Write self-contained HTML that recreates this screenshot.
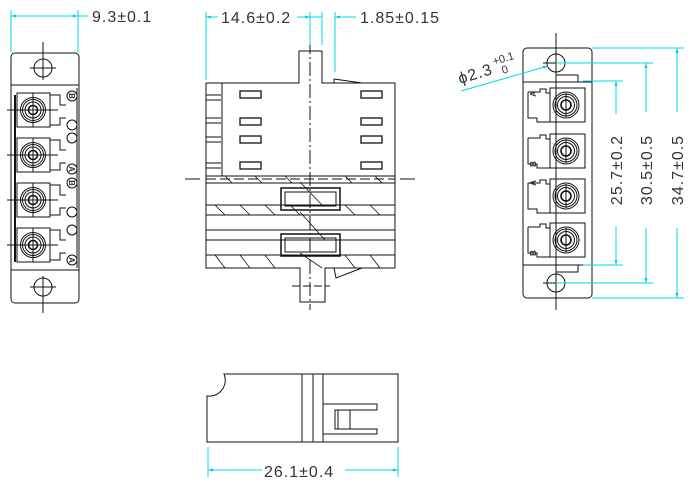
<!DOCTYPE html>
<html><head><meta charset="utf-8"><style>
html,body{margin:0;padding:0;background:#fff;}
svg{display:block}
text{font-family:"Liberation Sans",sans-serif;fill:#333;}
</style></head><body>
<svg width="699" height="490" viewBox="0 0 699 490" xmlns="http://www.w3.org/2000/svg">
<defs>
<marker id="ar" viewBox="0 0 10 10" refX="10" refY="5" markerWidth="8" markerHeight="5" orient="auto-start-reverse"><path d="M0,2 L10,5 L0,8z" fill="#00c8e0"/></marker>
</defs>
<g fill="none" stroke="#111" stroke-width="1">
<!-- LEFT VIEW -->
<rect x="11" y="53" width="68" height="250" rx="4"/>
<line x1="11" y1="85" x2="79" y2="85"/><line x1="11" y1="270" x2="79" y2="270"/>
<circle cx="43" cy="68" r="9"/><circle cx="43" cy="287" r="9"/>
<line x1="43" y1="42" x2="43" y2="80"/><line x1="30" y1="68" x2="56" y2="68"/>
<line x1="43" y1="276" x2="43" y2="313"/><line x1="30" y1="287" x2="56" y2="287"/>
<line x1="15" y1="95" x2="15" y2="262" stroke-width="2"/>
<g id="lp">
<rect x="17" y="93" width="33" height="34"/>
<circle cx="33" cy="110" r="12.5"/><circle cx="33" cy="110" r="10.5"/><circle cx="33" cy="110" r="8"/><circle cx="33" cy="110" r="4.5" stroke-width="1.6"/>
<line x1="7" y1="110" x2="58" y2="110"/><line x1="33" y1="93" x2="33" y2="127"/>
<path d="M50,95 H60 V105 H66 M50,125 H60 V118 H66"/>
</g>
<use href="#lp" y="45"/><use href="#lp" y="90"/><use href="#lp" y="135"/>
<line x1="77" y1="88" x2="77" y2="268"/>
<circle cx="72" cy="96" r="5"/><circle cx="72" cy="125" r="5"/><circle cx="72" cy="138" r="5"/><circle cx="72" cy="169" r="5"/>
<circle cx="72" cy="183" r="5"/><circle cx="72" cy="212" r="5"/><circle cx="72" cy="230" r="5"/><circle cx="72" cy="260" r="5"/>

<!-- MIDDLE VIEW -->
<path d="M206,83 H299 V51 H322 V83 H395 V268 H325 V302 H300 V268 H206 Z"/>
<path d="M334,79 L362,83 M334,79 L334,83"/>
<path d="M334,268 L336,278 L362,268"/>
<line x1="222" y1="83" x2="222" y2="176"/>
<line x1="206" y1="176" x2="395" y2="176"/><line x1="206" y1="183" x2="395" y2="183"/>
<line x1="206" y1="205" x2="395" y2="205"/><line x1="206" y1="215" x2="395" y2="215"/>
<line x1="206" y1="230" x2="395" y2="230"/><line x1="206" y1="240" x2="395" y2="240"/>
<line x1="206" y1="255" x2="395" y2="255"/>
<g stroke-width="1.3">
<rect x="240" y="91" width="21" height="7"/><rect x="240" y="118" width="21" height="7"/><rect x="240" y="136" width="21" height="7"/><rect x="240" y="162" width="21" height="7"/>
<rect x="361" y="91" width="21" height="7"/><rect x="361" y="118" width="21" height="7"/><rect x="361" y="136" width="21" height="7"/><rect x="361" y="162" width="21" height="7"/>
</g>
<path d="M206,95 H221 M206,100 H221 M206,118 H221 M206,123 H221 M206,137 H221 M206,142 H221 M206,163 H221 M206,168 H221"/>
<rect x="281" y="188" width="59" height="22" stroke-width="1.5"/><rect x="285" y="192" width="51" height="14"/>
<rect x="281" y="234" width="59" height="22" stroke-width="1.5"/><rect x="285" y="238" width="51" height="14"/>
<g stroke-width="0.8">
<path d="M215,205 L225,215 M240,205 L250,215 M265,205 L275,215 M290,205 L300,215 M345,205 L355,215 M370,205 L380,215"/>
<path d="M215,255 L225,268 M240,255 L250,268 M265,255 L275,268 M345,255 L355,268 M370,255 L380,268"/>
<path d="M225,176 L232,183 M255,176 L262,183 M285,176 L292,183 M345,176 L352,183 M375,176 L382,183"/>
<path d="M300,212 L325,240 M300,182 L322,205 M300,253 L322,268"/>
</g>
<path d="M206,179 H395" stroke-dasharray="10,4"/>
<line x1="185" y1="179" x2="200" y2="179"/><line x1="400" y1="179" x2="415" y2="179"/>
<line x1="310" y1="40" x2="310" y2="310" stroke-dasharray="14,3,2,3"/>
<line x1="292" y1="286" x2="330" y2="286" stroke-dasharray="8,3"/>

<!-- RIGHT VIEW -->
<rect x="523" y="48" width="69" height="250" rx="4"/>
<line x1="523" y1="82" x2="592" y2="82"/><line x1="523" y1="265" x2="592" y2="265"/>
<circle cx="556" cy="63" r="9"/><circle cx="556" cy="283" r="9"/>
<line x1="556" y1="33" x2="556" y2="310"/>
<line x1="543" y1="63" x2="569" y2="63"/><line x1="543" y1="283" x2="569" y2="283"/>
<path d="M556,75 H578 V82 M556,272 H578 V265"/>
<g id="rp">
<rect x="550" y="88" width="35" height="34"/>
<circle cx="566" cy="105" r="13"/><circle cx="566" cy="105" r="11"/><circle cx="566" cy="105" r="8.5"/><circle cx="566" cy="105" r="5" stroke-width="1.6"/>
<line x1="566" y1="93" x2="566" y2="117"/>
<path d="M528,92 H540 V89 H546 V93 H550 M528,92 V118 H537 V122 H550"/>
</g>
<use href="#rp" y="46"/><use href="#rp" y="91"/><use href="#rp" y="135"/>

<!-- BOTTOM VIEW -->
<path d="M224,374 H398 V442 H207 V396 A16,16 0 0 0 224,374 Z"/>
<line x1="302" y1="374" x2="302" y2="442"/><line x1="313" y1="374" x2="313" y2="442"/><line x1="323" y1="374" x2="323" y2="442"/>
<path d="M323,404 H377 V410 H338 V429 H377 V434 H323"/>
<rect x="335" y="410" width="15" height="19"/>
</g>

<!-- DIMENSIONS (cyan) -->
<g stroke="#00d8ec" stroke-width="1" fill="none">
<line x1="11" y1="10" x2="11" y2="52"/><line x1="78" y1="10" x2="78" y2="52"/>
<line x1="11" y1="16" x2="78" y2="16" marker-start="url(#ar)" marker-end="url(#ar)"/>
<line x1="78" y1="16" x2="88" y2="16"/>
<line x1="206" y1="12" x2="206" y2="80"/><line x1="310" y1="12" x2="310" y2="45"/><line x1="322" y1="12" x2="322" y2="45"/><line x1="335" y1="12" x2="335" y2="72"/>
<line x1="206" y1="17" x2="218" y2="17" marker-start="url(#ar)"/>
<line x1="297" y1="17" x2="310" y2="17" marker-end="url(#ar)"/>
<line x1="310" y1="17" x2="322" y2="17"/>
<line x1="335" y1="17" x2="356" y2="17" marker-start="url(#ar)"/>
<line x1="461" y1="91" x2="548" y2="66" marker-end="url(#ar)"/>
<line x1="592" y1="48" x2="684" y2="48"/><line x1="592" y1="298" x2="684" y2="298"/>
<line x1="677" y1="48" x2="677" y2="112" marker-start="url(#ar)"/>
<line x1="677" y1="228" x2="677" y2="298" marker-end="url(#ar)"/>
<line x1="556" y1="63" x2="653" y2="63"/><line x1="556" y1="283" x2="653" y2="283"/>
<line x1="646" y1="63" x2="646" y2="112" marker-start="url(#ar)"/>
<line x1="646" y1="228" x2="646" y2="283" marker-end="url(#ar)"/>
<line x1="583" y1="81" x2="623" y2="81"/><line x1="583" y1="265" x2="623" y2="265"/>
<line x1="616" y1="81" x2="616" y2="114" marker-start="url(#ar)"/>
<line x1="616" y1="226" x2="616" y2="265" marker-end="url(#ar)"/>
<line x1="208" y1="447" x2="208" y2="477"/><line x1="398" y1="447" x2="398" y2="477"/>
<line x1="208" y1="470" x2="262" y2="470" marker-start="url(#ar)"/>
<line x1="345" y1="470" x2="398" y2="470" marker-end="url(#ar)"/>
</g>

<!-- TEXT -->
<g font-size="16" letter-spacing="1">
<text x="92" y="22">9.3±0.1</text>
<text x="221" y="23">14.6±0.2</text>
<text x="360" y="23">1.85±0.15</text>
<text x="264" y="477">26.1±0.4</text>
<text transform="translate(622,170) rotate(-90)" text-anchor="middle">25.7±0.2</text>
<text transform="translate(652,170) rotate(-90)" text-anchor="middle">30.5±0.5</text>
<text transform="translate(683,170) rotate(-90)" text-anchor="middle">34.7±0.5</text>
<g transform="translate(460,84) rotate(-17)"><text x="0" y="0">ϕ2.3</text><text x="38" y="-8" font-size="11" letter-spacing="0">+0.1</text><text x="44" y="3" font-size="11" letter-spacing="0">0</text></g>
</g>
<g font-size="8" font-weight="bold">
<text transform="translate(536,94) rotate(-90)" text-anchor="middle">A</text>
<text transform="translate(536,164) rotate(-90)" text-anchor="middle">B</text>
<text transform="translate(536,183) rotate(-90)" text-anchor="middle">A</text>
<text transform="translate(536,253) rotate(-90)" text-anchor="middle">B</text>
<text transform="translate(69,96) rotate(90)" text-anchor="middle">B</text>
<text transform="translate(69,169) rotate(90)" text-anchor="middle">A</text>
<text transform="translate(69,183) rotate(90)" text-anchor="middle">B</text>
<text transform="translate(69,260) rotate(90)" text-anchor="middle">A</text>
</g>
</svg>
</body></html>
